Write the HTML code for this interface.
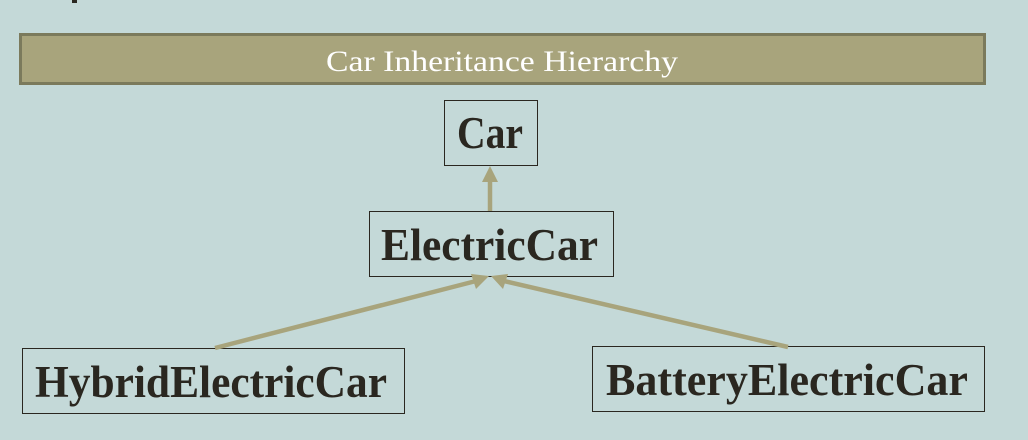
<!DOCTYPE html>
<html><head><style>
html,body{margin:0;padding:0;background:#c4d9d8;width:1028px;height:440px;overflow:hidden}
</style></head><body>
<svg width="1028" height="440" xmlns="http://www.w3.org/2000/svg">
<rect width="1028" height="440" fill="#c4d9d8"/>
<rect x="72" y="0" width="5" height="3" fill="#2a2720"/>
<rect x="20.5" y="34.5" width="964" height="49" fill="#a8a47c" stroke="#7b7a5c" stroke-width="3"/>
<text x="502" y="71" text-anchor="middle" fill="#fff" font-family="Liberation Serif, serif" font-size="30" textLength="352" lengthAdjust="spacingAndGlyphs">Car Inheritance Hierarchy</text>
<g fill="none" stroke="#2a2720" stroke-width="1">
<rect x="444.5" y="100.5" width="93" height="65"/>
<rect x="369.5" y="211.5" width="244" height="65"/>
<rect x="22.5" y="348.5" width="382" height="65"/>
<rect x="592.5" y="346.5" width="392" height="65"/>
</g>
<g stroke="#a8a47c" stroke-width="4.5" fill="#a8a47c">
<line x1="490" y1="211" x2="490" y2="180"/>
<line x1="215" y1="348" x2="476" y2="281"/>
<line x1="788" y1="347" x2="504" y2="281"/>
</g>
<g fill="#a8a47c">
<polygon points="490,166 482,182 498,182"/>
<polygon points="489,276 471,274 476,289"/>
<polygon points="491,276 503,289 508,274"/>
</g>
<g fill="#2a2720" font-family="Liberation Serif, serif" font-weight="bold" font-size="45">
<text x="457" y="148" textLength="66" lengthAdjust="spacingAndGlyphs">Car</text>
<text x="381" y="260" textLength="217" lengthAdjust="spacingAndGlyphs">ElectricCar</text>
<text x="35" y="397" textLength="352" lengthAdjust="spacingAndGlyphs">HybridElectricCar</text>
<text x="606" y="395" textLength="362" lengthAdjust="spacingAndGlyphs">BatteryElectricCar</text>
</g>
</svg>
</body></html>
